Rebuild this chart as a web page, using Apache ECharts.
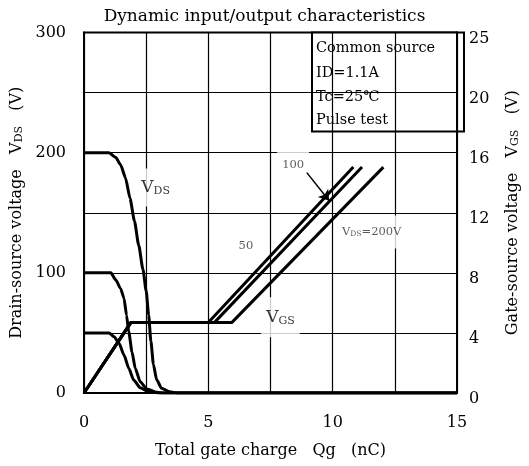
<!DOCTYPE html>
<html>
<head>
<meta charset="utf-8">
<script src="https://cdn.jsdelivr.net/npm/echarts@6/dist/echarts.min.js"></script>
<style>
html,body{margin:0;padding:0;background:#fff;}
#chart{width:529px;height:466px;}
</style>
</head>
<body>
<div id="chart"></div>
<script>
// ---- Data ----
// Drain-source voltage curves (left axis, V) vs total gate charge (nC)
const qgVds200 = [0, 1.0, 1.28, 1.47, 1.67, 1.85, 2.03, 2.20, 2.37, 2.50, 2.60, 2.69, 2.79, 2.92, 3.12, 3.45, 3.75, 15];
const vds200   = [200, 200, 196, 190, 179, 162, 143, 123, 103, 85, 65, 43, 24, 11, 4, 1, 0, 0];
const qgVds100 = [0, 1.08, 1.28, 1.47, 1.61, 1.71, 1.80, 1.93, 2.06, 2.26, 2.53, 2.92, 3.24, 15];
const vds100   = [100, 100, 94, 87, 78.7, 64.8, 50.9, 34.3, 20.5, 9.4, 3.3, 0.6, 0, 0];
const qgVds50  = [0, 1.01, 1.21, 1.41, 1.61, 1.80, 2.00, 2.26, 2.59, 3.0, 15];
const vds50    = [50, 50, 46.8, 41.3, 31.6, 20.5, 10.8, 4.4, 1.1, 0, 0];

// Gate-source voltage curves (right axis, V)
const qgVgs50  = [0, 1.89, 5.0, 10.83];
const vgs50    = [0, 4.7, 4.7, 15.04];
const qgVgs100 = [0, 1.89, 5.25, 11.18];
const vgs100   = [0, 4.7, 4.7, 15.04];
const qgVgs200 = [0, 1.89, 5.95, 12.04];
const vgs200   = [0, 4.7, 4.7, 15.04];

// Annotation labels (x in nC, y in left-axis V)
const annoText = ['{b|V}{s|DS}', '{m|50}', '{m|100}', '{m|V}{t|DS}{m|=200V}', '{b|V}{s|GS}'];
const annoX    = [2.88, 6.51, 8.41, 11.57, 7.9];
const annoY    = [171, 123, 190, 134, 63];
const annoPad  = [[10,4], [2,2], [8,5], [10,4], [11,5]];

// Arrow from the "100" label to the 100 V curve
const arrowX = [8.96, 9.86];
const arrowY = [183.4, 160];

// Axis ticks
const xTicks = {min: 0, max: 15, step: 2.5, labelStep: 5};
const yLeft  = {min: 0, max: 300, step: 50, labelStep: 100};
const yRight = {min: 0, max: 24, step: 4};
const conditions = ['Common source', 'ID=1.1A', 'Tc=25\u2103', 'Pulse test'];

const FONT = 'DejaVu Serif';
const zip = (xs, ys) => xs.map((x, i) => [x, ys[i]]);

const chart = echarts.init(document.getElementById('chart'), null, {renderer: 'canvas'});

const lineBase = {
  type: 'line', symbol: 'none', showSymbol: false, smooth: 0.2, smoothMonotone: 'x',
  lineStyle: {color: '#000', width: 3}, z: 3, silent: true
};

const richName = {
  n: {fontFamily: FONT, fontSize: 16, color: '#000', verticalAlign: 'bottom', lineHeight: 18},
  s: {fontFamily: FONT, fontSize: 11, color: '#000', verticalAlign: 'bottom', lineHeight: 14}
};

const option = {
  animation: false,
  backgroundColor: '#fff',
  title: {
    text: 'Dynamic input/output characteristics',
    left: 'center', top: 8, padding: 0,
    textStyle: {fontFamily: FONT, fontSize: 17, fontWeight: 'normal', color: '#000'}
  },
  grid: {left: 84, top: 32.5, width: 380, height: 360.5, show: true, borderColor: '#000', borderWidth: 2, backgroundColor: '#fff'},
  xAxis: {
    type: 'value', min: xTicks.min, max: xTicks.max, interval: xTicks.step,
    axisLine: {show: true, lineStyle: {color: '#000', width: 2}},
    axisTick: {show: false},
    splitLine: {show: true, lineStyle: {color: '#000', width: 1.2}},
    axisLabel: {
      margin: 22, fontFamily: FONT, fontSize: 16, color: '#000',
      formatter: v => (v % xTicks.labelStep === 0 ? String(v) : '')
    },
    name: 'Total gate charge   Qg   (nC)',
    nameLocation: 'middle', nameGap: 50,
    nameTextStyle: {fontFamily: FONT, fontSize: 16, color: '#000'}
  },
  yAxis: [
    {
      type: 'value', min: yLeft.min, max: yLeft.max, interval: yLeft.step,
      axisLine: {show: true, lineStyle: {color: '#000', width: 2}},
      axisTick: {show: false},
      splitLine: {show: true, lineStyle: {color: '#000', width: 1.2}},
      axisLabel: {
        margin: 18, fontFamily: FONT, fontSize: 16, color: '#000',
        formatter: v => (v % yLeft.labelStep === 0 ? String(v) : '')
      },
      name: '{n|Drain-source voltage   V}{s|DS}{n|   (V)}',
      nameLocation: 'middle', nameGap: 50, nameRotate: 90,
      nameTextStyle: {fontFamily: FONT, fontSize: 16, color: '#000', rich: richName}
    },
    {
      type: 'value', position: 'right', min: yRight.min, max: yRight.max, interval: yRight.step,
      axisLine: {show: true, lineStyle: {color: '#000', width: 2}},
      axisTick: {show: false},
      splitLine: {show: false},
      axisLabel: {
        margin: 12, color: '#000',
        formatter: v => '{p|' + (v === yRight.max ? '25' : String(v)) + '}',
        rich: {p: {fontFamily: FONT, fontSize: 16, color: '#000', padding: [12, 0, 0, 0]}}
      },
      name: '{n|Gate-source voltage   V}{s|GS}{n|   (V)}',
      nameLocation: 'middle', nameGap: 46, nameRotate: 90,
      nameTextStyle: {fontFamily: FONT, fontSize: 16, color: '#000', rich: richName}
    }
  ],
  graphic: [
    {
      type: 'group', z: 50,
      children: [
        {type: 'rect', shape: {x: 312, y: 32.5, width: 152, height: 99},
         style: {fill: '#fff', stroke: '#000', lineWidth: 2}}
      ].concat(conditions.map((t, i) => ({
        type: 'text', x: 316, y: [48.5, 73, 97, 120][i],
        style: {text: t, fontFamily: FONT, fontSize: 14.5, fill: '#000', verticalAlign: 'middle'}
      })))
    }
  ],
  series: [
    Object.assign({}, lineBase, {name: 'VDS200', data: zip(qgVds200, vds200)}),
    Object.assign({}, lineBase, {name: 'VDS100', data: zip(qgVds100, vds100)}),
    Object.assign({}, lineBase, {name: 'VDS50', data: zip(qgVds50, vds50)}),
    Object.assign({}, lineBase, {name: 'VGS50', yAxisIndex: 1, smooth: false, data: zip(qgVgs50, vgs50)}),
    Object.assign({}, lineBase, {name: 'VGS100', yAxisIndex: 1, smooth: false, data: zip(qgVgs100, vgs100)}),
    Object.assign({}, lineBase, {name: 'VGS200', yAxisIndex: 1, smooth: false, data: zip(qgVgs200, vgs200)}),
    {
      type: 'scatter', z: 1, silent: true, symbolSize: 1,
      itemStyle: {color: 'rgba(0,0,0,0)'},
      data: annoX.map((x, i) => ({
        value: [x, annoY[i]],
        label: {
          show: true, position: 'inside', formatter: annoText[i],
          backgroundColor: '#fff', padding: annoPad[i],
          rich: {
            b: {fontFamily: FONT, fontSize: 17, color: '#000', verticalAlign: 'bottom', lineHeight: 18},
            s: {fontFamily: FONT, fontSize: 11, color: '#000', verticalAlign: 'bottom', lineHeight: 13},
            m: {fontFamily: FONT, fontSize: 11.5, color: '#333', verticalAlign: 'bottom', lineHeight: 13},
            t: {fontFamily: FONT, fontSize: 7.5, color: '#333', verticalAlign: 'bottom', lineHeight: 10}
          }
        }
      }))
    },
    {
      type: 'line', z: 6, silent: true, data: [], symbol: 'none',
      markLine: {
        silent: true, symbol: ['none', 'arrow'], symbolSize: 10,
        lineStyle: {color: '#000', width: 1.5, type: 'solid'},
        itemStyle: {color: '#000'},
        label: {show: false},
        data: [[{coord: [arrowX[0], arrowY[0]]}, {coord: [arrowX[1], arrowY[1]]}]]
      }
    }
  ]
};

chart.setOption(option);
</script>
</body>
</html>
